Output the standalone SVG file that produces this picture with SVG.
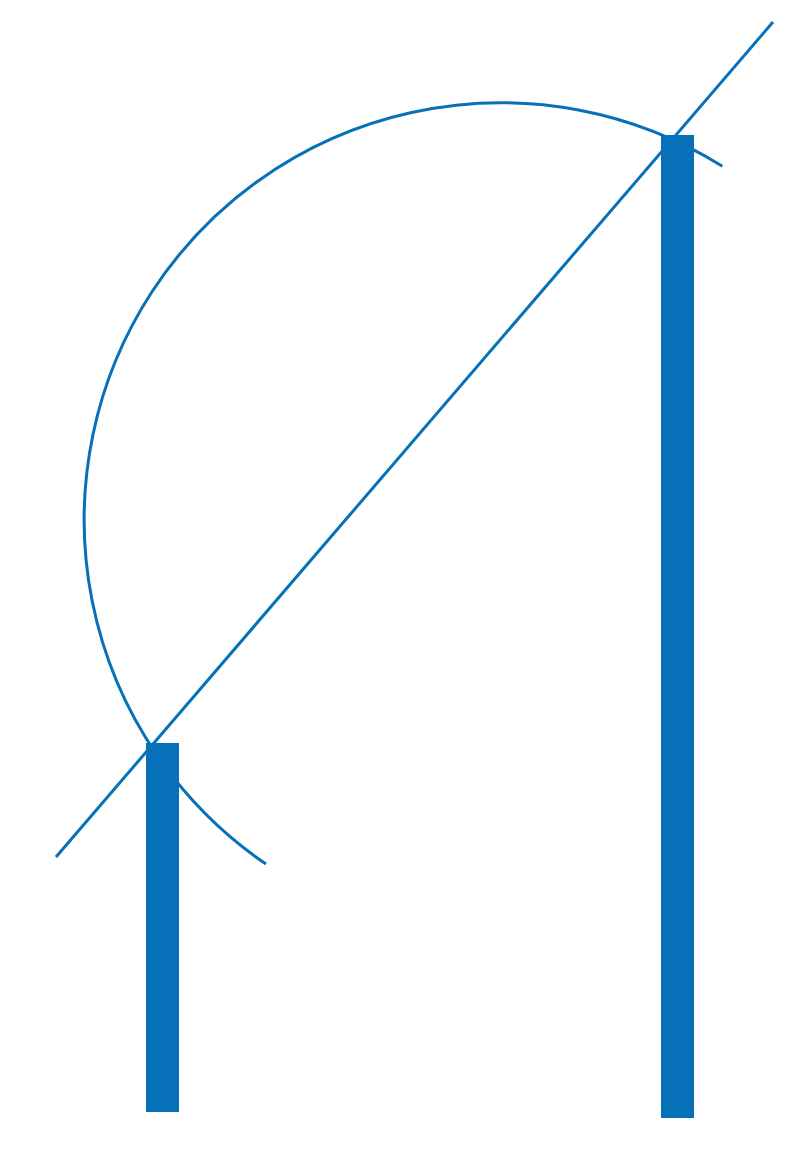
<svg xmlns="http://www.w3.org/2000/svg" width="800" height="1155" viewBox="0 0 800 1155">
<style>
.ln{fill:none;stroke:#0671b8;stroke-width:3;stroke-linecap:butt}
.bar{fill:#0671b8}
</style>
<rect width="800" height="1155" fill="#ffffff"/>
<g id="connectors">
<path class="ln" d="M266,864.1 A417,417 0 0 1 722.3,166.2"/>
<line class="ln" x1="56" y1="857" x2="773" y2="22"/>
</g>
<g id="bar-left"><rect class="bar" x="146" y="743" width="33" height="369"/></g>
<g id="bar-right"><rect class="bar" x="661" y="135" width="33" height="983"/></g>
</svg>
